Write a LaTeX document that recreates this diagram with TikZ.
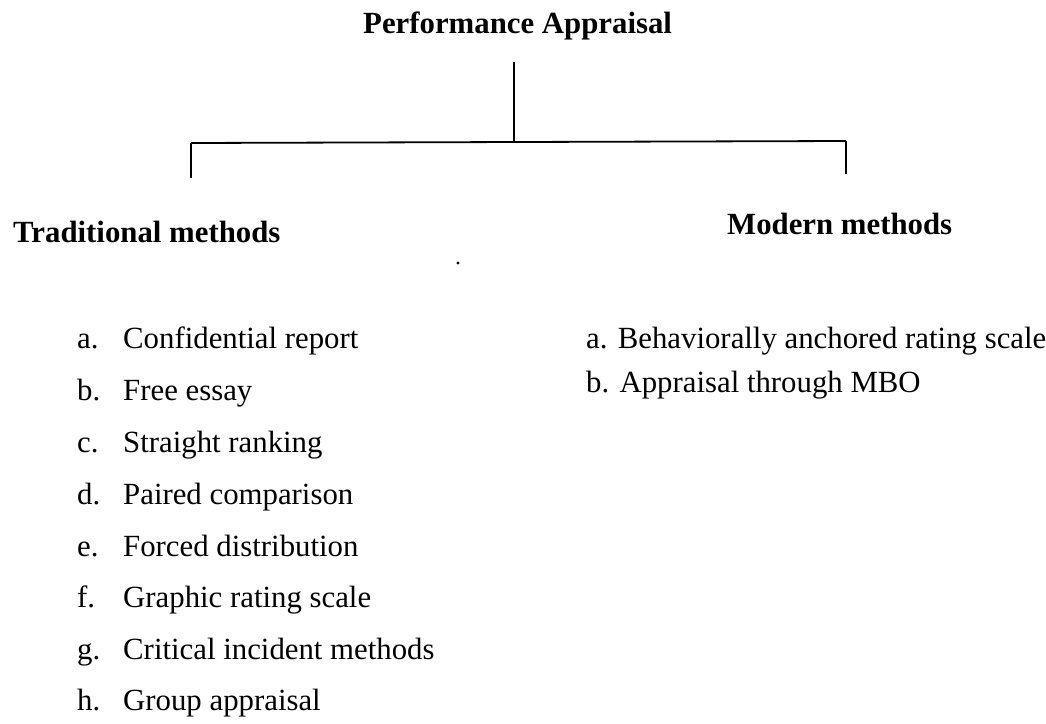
\documentclass[tikz,border=0pt]{standalone}
\usepackage{fontspec}
\setmainfont{Liberation Serif}
\begin{document}
\begin{tikzpicture}[x=1pt,y=-1pt,
  txt/.style={anchor=base west,inner sep=0pt,font=\fontsize{30.8}{36}\selectfont},
  head/.style={txt,font=\fontsize{30.8}{36}\selectfont\bfseries},
  conn/.style={line width=1.8pt,black}]
\useasboundingbox (0,0) rectangle (1046,723);
\fill[white] (0,0) rectangle (1046,723);
% title and headings
\node[head] (pa) at (363,33) {Performance Appraisal};
\node[head] (tm) at (13,242) {Traditional methods};
\node[head] (mm) at (727,234) {Modern methods};
% connector points
\coordinate (top) at (514,62);
\coordinate (j) at (514,142);
\coordinate (lt) at (191,143);
\coordinate (lb) at (191,178);
\coordinate (rt) at (846,141);
\coordinate (rb) at (846,174);
\draw[conn] (top) -- (j);
\draw[conn] (lt) -- (rt);
\draw[conn] (lt) -- (lb);
\draw[conn] (rt) -- (rb);
% stray dot
\fill (458,263) circle (1.6);
% traditional list
\foreach \l/\t/\y [count=\i] in {a./Confidential report/348,b./Free essay/400,c./Straight ranking/452,d./Paired comparison/504,e./Forced distribution/556,f./Graphic rating scale/607,g./Critical incident methods/659,h./Group appraisal/710}{
  \node[txt] (tl\i) at (77,\y) {\l};
  \node[txt] (tt\i) at (123,\y) {\t};
}
% modern list
\node[txt] (m1) at (586,348) {a. Behaviorally anchored rating scale};
\node[txt] (m2) at (586,392) {b. Appraisal through MBO};
\end{tikzpicture}
\end{document}
